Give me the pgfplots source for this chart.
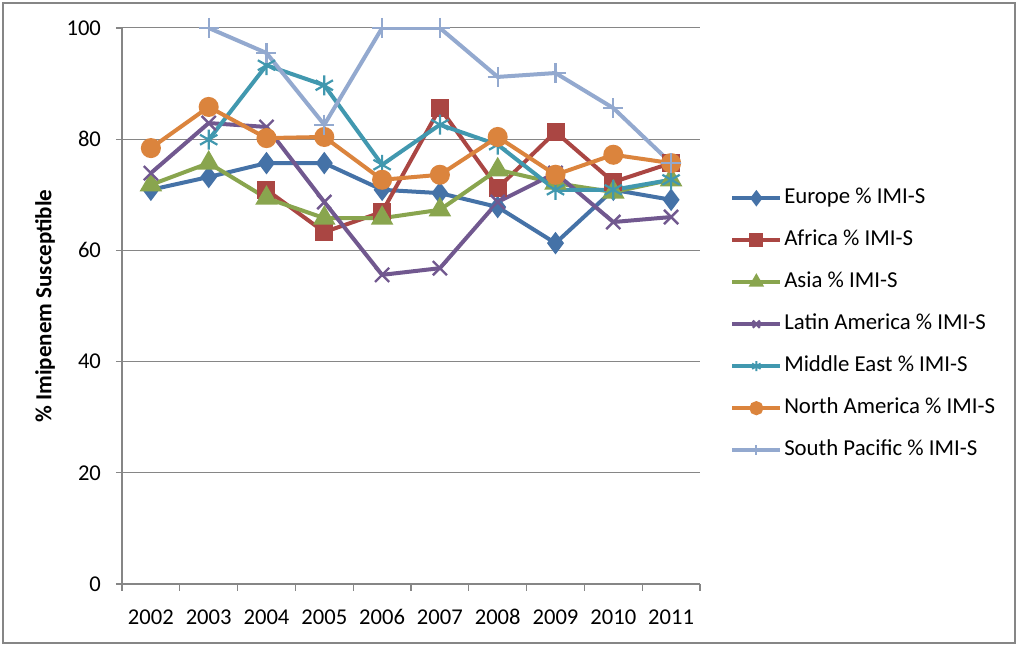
\documentclass[border=0pt]{standalone}
\usepackage{fontspec}
\setmainfont{Carlito}
\usepackage{pgfplots}
\pgfplotsset{compat=1.18}
\definecolor{cEu}{HTML}{4572A7}
\definecolor{cAf}{HTML}{AA4643}
\definecolor{cAs}{HTML}{89A54E}
\definecolor{cLa}{HTML}{71588F}
\definecolor{cMe}{HTML}{4198AF}
\definecolor{cNa}{HTML}{DB843D}
\definecolor{cSp}{HTML}{93A9CF}
\definecolor{frame}{HTML}{868686}
\begin{document}
\begin{tikzpicture}
\path[use as bounding box] (-61pt,-31pt) rectangle (451pt,292pt);
\fill[white] (-61pt,-31pt) rectangle (451pt,292pt);
\begin{axis}[
  at={(0pt,0pt)}, anchor=south west,
  scale only axis, width=289pt, height=278pt,
  xmin=-0.5, xmax=9.5, ymin=0, ymax=100,
  axis lines*=left,
  axis line style={frame, line width=0.6pt},
  ymajorgrids, grid style={frame, line width=0.5pt},
  ytick={0,20,...,100},
  xtick={0,...,9},
  xticklabels={2002,2003,2004,2005,2006,2007,2008,2009,2010,2011},
  minor xtick={-0.5,0.5,...,9.5},
  major x tick style={draw=none},
  minor x tick style={frame, line width=0.6pt},
  y tick style={frame, line width=0.6pt},
  tick align=outside,
  major tick length=3pt, minor tick length=3.5pt,
  /pgf/number format/assume math mode=true,
  tick label style={font=\fontsize{11.3}{13}\selectfont},
  yticklabel style={xshift=-4pt},
  xticklabel style={yshift=-6pt, text height=7.5pt, text depth=0pt},
  ylabel={\% Imipenem Susceptible},
  ylabel style={at={(axis description cs:-0.133,0.50)}, anchor=center, font=\fontsize{11.5}{13}\selectfont\bfseries},
  every axis plot/.append style={line width=2pt, mark options={solid}},
  legend style={at={(1.052,0.718)}, anchor=north west, draw=none, fill=none, inner sep=0pt,
    row sep=8pt, font=\fontsize{11.4}{13}\selectfont,
    nodes={inner sep=1pt, text height=8pt, text depth=3pt}},
  legend cell align=left,
  legend image code/.code={\draw[mark repeat=2,mark phase=2,mark size=2.5pt] plot coordinates {(0cm,0cm) (0.42cm,0cm) (0.84cm,0cm)};},
]
\addplot[cEu, mark=diamond*, mark size=4pt] coordinates {(0,70.9) (1,73.2) (2,75.7) (3,75.7) (4,70.9) (5,70.3) (6,67.8) (7,61.3) (8,70.9) (9,69.1)};
\addlegendentry{Europe \% IMI-S}
\addplot[cAf, mark=square*, mark size=3.5pt] coordinates {(2,70.9) (3,63.3) (4,66.9) (5,85.6) (6,71.2) (7,81.3) (8,72.3) (9,75.7)};
\addlegendentry{Africa \% IMI-S}
\addplot[cAs, mark=triangle*, mark size=4.5pt] coordinates {(0,71.8) (1,75.7) (2,69.4) (3,65.8) (4,65.8) (5,67.3) (6,74.5) (7,72.1) (8,70.5) (9,72.7)};
\addlegendentry{Asia \% IMI-S}
\addplot[cLa, mark=x, mark size=5pt, mark options={line width=1.2pt}] coordinates {(0,73.9) (1,82.9) (2,82.2) (3,68.7) (4,55.6) (5,56.8) (6,68.7) (7,73.9) (8,65.1) (9,66.0)};
\addlegendentry{Latin America \% IMI-S}
\addplot[cMe, mark=asterisk, mark size=5pt, mark options={line width=1.1pt}] coordinates {(1,79.9) (2,93.3) (3,89.7) (4,75.4) (5,82.6) (6,79.0) (7,70.9) (8,70.9) (9,72.7)};
\addlegendentry{Middle East \% IMI-S}
\addplot[cNa, mark=*, mark size=4pt] coordinates {(0,78.4) (1,85.8) (2,80.2) (3,80.4) (4,72.7) (5,73.6) (6,80.4) (7,73.6) (8,77.2) (9,75.7)};
\addlegendentry{North America \% IMI-S}
\addplot[cSp, mark=+, mark size=5pt, mark options={line width=1.1pt}] coordinates {(1,100) (2,95.5) (3,82.6) (4,100) (5,100) (6,91.2) (7,91.9) (8,85.6) (9,75.7)};
\addlegendentry{South Pacific \% IMI-S}
\end{axis}
\draw[frame, line width=0.8pt] (-59.5pt,-29.5pt) rectangle (446.5pt,290.5pt);
\end{tikzpicture}
\end{document}
